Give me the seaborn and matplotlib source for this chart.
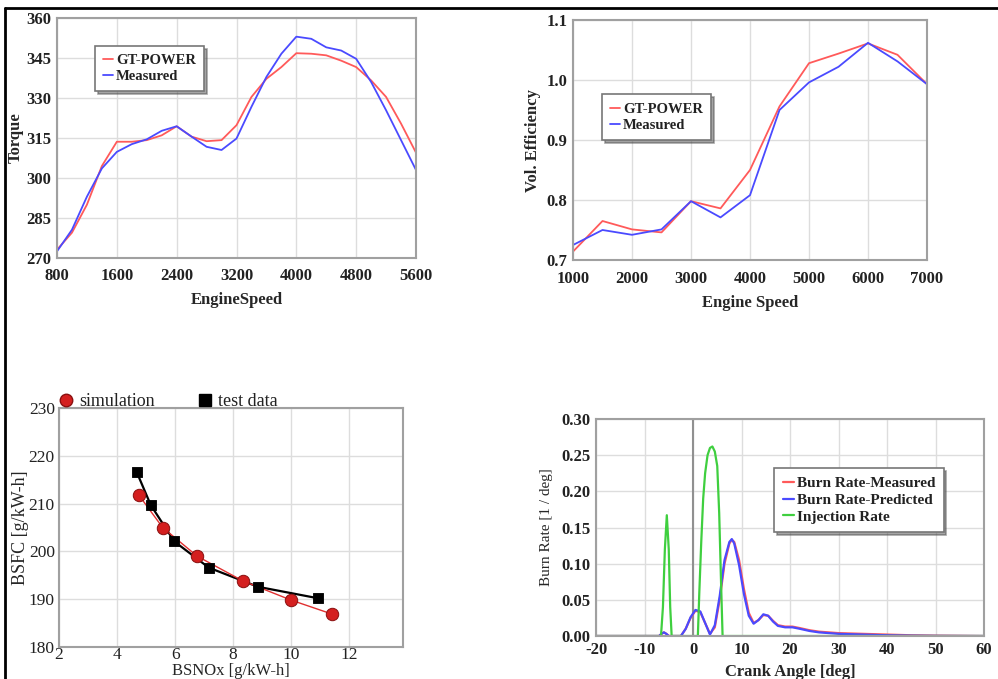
import matplotlib
matplotlib.use("Agg")
import matplotlib.pyplot as plt
from matplotlib.lines import Line2D
import seaborn as sns
import pandas as pd

# torque vs engine speed
rpm_torque = [800, 1000, 1200, 1400, 1600, 1800, 2000, 2200, 2400, 2600, 2800, 3000,
              3200, 3400, 3600, 3800, 4000, 4200, 4400, 4600, 4800, 5000, 5200, 5400, 5600]
torque_gt = [273.1, 279.5, 290.0, 304.5, 313.6, 313.6, 314.2, 316.0, 319.4, 315.5, 313.8, 314.2,
             319.8, 330.4, 337.2, 341.6, 346.8, 346.6, 346.0, 344.0, 341.6, 336.6, 330.4, 320.4, 309.5]
torque_meas = [272.5, 280.6, 293.0, 303.6, 309.8, 312.7, 314.5, 317.7, 319.4, 315.5, 311.7, 310.5,
               314.8, 326.7, 337.9, 346.6, 353.0, 352.2, 349.0, 347.8, 344.7, 336.0, 325.4, 314.2, 303.0]

# volumetric efficiency vs engine speed
rpm_ve = [1000, 1500, 2000, 2500, 3000, 3500, 4000, 4500, 5000, 5500, 6000, 6500, 7000]
ve_gt = [0.714, 0.765, 0.751, 0.746, 0.798, 0.786, 0.850, 0.956, 1.028, 1.044, 1.061, 1.042, 0.993]
ve_meas = [0.725, 0.750, 0.742, 0.751, 0.798, 0.771, 0.808, 0.950, 0.996, 1.022, 1.062, 1.031, 0.993]

# BSFC vs BSNOx
nox_sim = [4.76, 5.57, 6.76, 8.34, 10.0, 11.4]
bsfc_sim = [211.7, 205.0, 199.0, 193.8, 189.8, 186.9]
nox_test = [4.67, 5.16, 5.97, 7.16, 8.85, 10.92]
bsfc_test = [216.7, 209.7, 202.1, 196.6, 192.6, 190.2]

# burn rate / injection rate vs crank angle
ca_burn = [-20, -7, -6.5, -6, -5.5, -5, -2.5, -1.5, -0.5, 0.5, 1.5, 2.5, 3.5, 4.5, 5.5, 6.5,
           7.5, 8.0, 8.5, 9.5, 10.5, 11.5, 12.5, 13.5, 14.5, 15.5, 16.5, 17.5, 19, 20.5,
           22, 24, 26, 28, 30, 35, 40, 45, 50, 60]
burn_meas = [0, 0, 0.003, 0.005, 0.003, 0, 0, 0.010, 0.025, 0.035, 0.033, 0.018, 0.003, 0.012,
             0.050, 0.100, 0.128, 0.133, 0.130, 0.105, 0.065, 0.032, 0.018, 0.022, 0.029, 0.028,
             0.021, 0.015, 0.013, 0.013, 0.011, 0.008, 0.006, 0.005, 0.004, 0.003, 0.002, 0.001,
             0.0005, 0]
burn_pred = [0, 0, 0.003, 0.005, 0.003, 0, 0, 0.010, 0.026, 0.036, 0.034, 0.018, 0.002, 0.015,
             0.055, 0.105, 0.130, 0.134, 0.128, 0.098, 0.058, 0.028, 0.017, 0.022, 0.030, 0.028,
             0.020, 0.014, 0.012, 0.012, 0.010, 0.007, 0.005, 0.004, 0.003, 0.002, 0.001, 0.0005,
             0.0002, 0]
ca_inj = [-20, -6.6, -6.2, -5.8, -5.4, -5.0, -4.7, -4.4, 1.0, 1.3, 1.7, 2.1, 2.5, 3.0, 3.5,
          4.0, 4.5, 5.0, 5.4, 5.8, 6.1, 60]
inj_rate = [0, 0, 0.04, 0.12, 0.167, 0.12, 0.04, 0, 0, 0.06, 0.13, 0.19, 0.225, 0.25, 0.26,
            0.262, 0.255, 0.235, 0.17, 0.07, 0, 0]

RED = "#ff5a5a"
BLUE = "#4a4aff"
GREEN = "#3fcf3f"
SERIF = ["Liberation Serif", "DejaVu Serif"]

sns.set_theme(style="whitegrid")
plt.rcParams["font.family"] = SERIF
plt.rcParams["axes.unicode_minus"] = False
plt.rcParams["axes.edgecolor"] = "#a0a0a0"
plt.rcParams["axes.linewidth"] = 1.5
plt.rcParams["grid.color"] = "#dddddd"
plt.rcParams["grid.linewidth"] = 1.0
plt.rcParams["text.color"] = "#222222"
plt.rcParams["xtick.color"] = "#222222"
plt.rcParams["ytick.color"] = "#222222"

W, H = 998, 679
fig = plt.figure(figsize=(W / 100, H / 100), dpi=100)


def px_axes(l, t, r, b):
    return fig.add_axes([l / W, 1 - b / H, (r - l) / W, (b - t) / H])


def style_ticks(ax, size, bold=True, xpad=4, ypad=4):
    ax.tick_params(axis="both", length=0, labelsize=size)
    ax.tick_params(axis="x", pad=xpad)
    ax.tick_params(axis="y", pad=ypad)
    for lab in ax.get_xticklabels() + ax.get_yticklabels():
        lab.set_fontweight("bold" if bold else "normal")


def boxed_legend(ax, loc, anchor, size):
    leg = ax.legend(loc=loc, bbox_to_anchor=anchor, fontsize=size, frameon=True,
                    fancybox=False, shadow=True, handlelength=0.7, handletextpad=0.2,
                    borderpad=0.55, labelspacing=0.2, borderaxespad=0)
    leg.get_frame().set_edgecolor("#777777")
    leg.get_frame().set_linewidth(1.2)
    for t in leg.get_texts():
        t.set_fontweight("bold")
    return leg


# --- top left: torque
ax1 = px_axes(57, 18, 416, 258)
df1 = pd.DataFrame({"speed": rpm_torque * 2,
                    "torque": torque_gt + torque_meas,
                    "src": ["GT-POWER"] * len(rpm_torque) + ["Measured"] * len(rpm_torque)})
sns.lineplot(data=df1, x="speed", y="torque", hue="src", palette=[RED, BLUE], lw=1.3, ax=ax1)
ax1.set_xlim(800, 5600)
ax1.set_ylim(270, 360)
ax1.set_xticks(range(800, 5601, 800))
ax1.set_yticks(range(270, 361, 15))
ax1.set_xlabel("EngineSpeed", fontsize=12, fontweight="bold", labelpad=6)
ax1.set_ylabel("Torque", fontsize=12, fontweight="bold", labelpad=2)
style_ticks(ax1, 12, xpad=7)
boxed_legend(ax1, "upper left", (0.106, 0.883), 10.5)

# --- top right: volumetric efficiency
ax2 = px_axes(573, 20, 927, 260)
df2 = pd.DataFrame({"speed": rpm_ve * 2,
                    "ve": ve_gt + ve_meas,
                    "src": ["GT-POWER"] * len(rpm_ve) + ["Measured"] * len(rpm_ve)})
sns.lineplot(data=df2, x="speed", y="ve", hue="src", palette=[RED, BLUE], lw=1.3, ax=ax2)
ax2.set_xlim(1000, 7000)
ax2.set_ylim(0.7, 1.1)
ax2.set_xticks(range(1000, 7001, 1000))
ax2.set_yticks([0.7, 0.8, 0.9, 1.0, 1.1])
ax2.set_yticklabels(["0.7", "0.8", "0.9", "1.0", "1.1"])
ax2.set_xlabel("Engine Speed", fontsize=12, fontweight="bold", labelpad=6)
ax2.set_ylabel("Vol. Efficiency", fontsize=12, fontweight="bold", labelpad=4)
style_ticks(ax2, 12, xpad=8)
boxed_legend(ax2, "upper left", (0.082, 0.69), 10.5)

# --- bottom left: BSFC vs BSNOx
ax3 = px_axes(59, 408, 403, 647)
ax3.plot(nox_test, bsfc_test, color="black", lw=1.6, zorder=3)
ax3.plot(nox_sim, bsfc_sim, color="#e03030", lw=1.0, zorder=3)
sns.scatterplot(x=nox_sim, y=bsfc_sim, color="#d41f1f", edgecolor="#8a1010", s=80,
                marker="o", ax=ax3, zorder=4, legend=False)
sns.scatterplot(x=nox_test, y=bsfc_test, color="black", edgecolor="black", s=60,
                marker="s", ax=ax3, zorder=5, legend=False)
ax3.set_xlim(2, 13.85)
ax3.set_ylim(180, 230)
ax3.set_xticks(range(2, 13, 2))
ax3.set_yticks(range(180, 231, 10))
ax3.set_xlabel("BSNOx [g/kW-h]", fontsize=12, labelpad=0)
ax3.set_ylabel("BSFC [g/kW-h]", fontsize=13, labelpad=0)
style_ticks(ax3, 12.5, bold=False, xpad=0, ypad=3)
handles3 = [Line2D([], [], ls="none", marker="o", ms=9, mfc="#d41f1f", mec="#8a1010"),
            Line2D([], [], ls="none", marker="s", ms=8, mfc="black", mec="black")]
ax3.legend(handles3, ["simulation", "test data"], loc="lower left",
           bbox_to_anchor=(0.0, 0.99), ncol=2, frameon=False, fontsize=13,
           handlelength=0.8, handletextpad=0.3, columnspacing=2.4,
           borderaxespad=0, borderpad=0)

# --- bottom right: burn rate
ax4 = px_axes(596, 419, 984, 636)
df4 = pd.DataFrame({"ca": ca_burn * 2 + ca_inj,
                    "rate": burn_meas + burn_pred + inj_rate,
                    "src": ["Burn Rate-Measured"] * len(ca_burn)
                           + ["Burn Rate-Predicted"] * len(ca_burn)
                           + ["Injection Rate"] * len(ca_inj)})
ax4.axvline(0, color="#909090", lw=1.5, zorder=1)
sns.lineplot(data=df4, x="ca", y="rate", hue="src", palette=[RED, BLUE, GREEN], lw=1.6,
             ax=ax4, sort=False)
ax4.set_xlim(-20, 60)
ax4.set_ylim(0, 0.30)
ax4.set_xticks(range(-20, 61, 10))
ax4.set_yticks([0, 0.05, 0.10, 0.15, 0.20, 0.25, 0.30])
ax4.set_yticklabels(["0.00", "0.05", "0.10", "0.15", "0.20", "0.25", "0.30"])
ax4.set_xlabel("Crank Angle [deg]", fontsize=12, fontweight="bold", labelpad=5)
ax4.set_ylabel("Burn Rate [1 / deg]", fontsize=11, labelpad=6)
style_ticks(ax4, 12)
boxed_legend(ax4, "upper left", (0.46, 0.774), 11)

# outer frame lines of the figure
fig.add_artist(Line2D([5 / W, 1], [1 - 8 / H, 1 - 8 / H], color="black", lw=2))
fig.add_artist(Line2D([5 / W, 5 / W], [0, 1 - 8 / H], color="black", lw=2))

fig.savefig("out.png", dpi=100)
plt.close(fig)
